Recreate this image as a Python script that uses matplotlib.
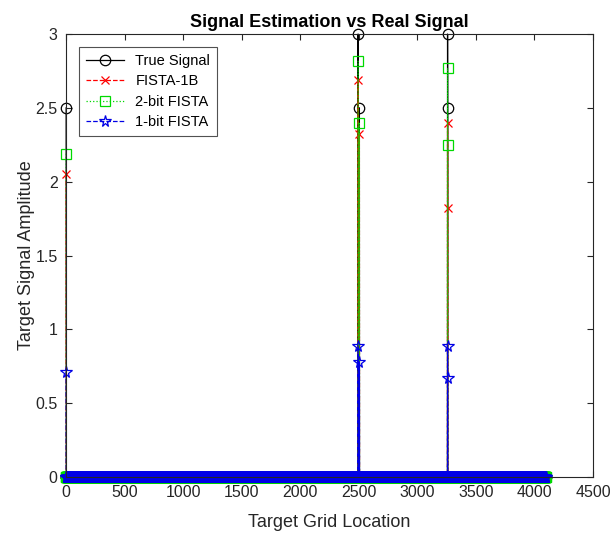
import numpy as np
import matplotlib
matplotlib.use('Agg')
import matplotlib.pyplot as plt

plt.rcParams['font.family'] = ['Liberation Sans', 'DejaVu Sans']

# grid of 4096 target locations, sparse support
n_grid = 4096
support = [1, 2494, 2505, 3258, 3259]

true_vals = [2.5, 3.0, 2.5, 3.0, 2.5]
fista_1b_vals = [2.05, 2.69, 2.32, 2.40, 1.82]
fista_2bit_vals = [2.19, 2.82, 2.40, 2.77, 2.25]
fista_1bit_vals = [0.71, 0.89, 0.78, 0.89, 0.67]

x_ticks = [0, 500, 1000, 1500, 2000, 2500, 3000, 3500, 4000, 4500]
y_ticks = [0, 0.5, 1, 1.5, 2, 2.5, 3]


def sparse_signal(vals):
    s = np.zeros(n_grid)
    s[np.array(support) - 1] = vals
    return s


grid = np.arange(1, n_grid + 1)

fig = plt.figure(figsize=(6.13, 5.36), dpi=100)
ax = fig.add_axes([0.1077, 0.110, 0.8597, 0.8265])

common = dict(lw=0.9, mew=0.9, clip_on=False)
ax.plot(grid, sparse_signal(true_vals), 'k-o', ms=7.5, mfc='none', label='True Signal', **common)
ax.plot(grid, sparse_signal(fista_1b_vals), 'r--x', ms=6, label='FISTA-1B', **common)
ax.plot(grid, sparse_signal(fista_2bit_vals), color=(0, 0.85, 0), ls=':', marker='s', ms=6.5,
        mfc='none', label='2-bit FISTA', **common)
ax.plot(grid, sparse_signal(fista_1bit_vals), color=(0, 0, 0.9), ls='--', marker='*', ms=8.5,
        mfc='none', label='1-bit FISTA', **common)

ax.set_xlim(0, 4500)
ax.set_ylim(0, 3)
ax.set_xticks(x_ticks)
ax.set_yticks(y_ticks)
ax.set_yticklabels(['0', '0.5', '1', '1.5', '2', '2.5', '3'])
ax.tick_params(direction='in', top=True, right=True, labelsize=11.5, colors='#262626', length=4, pad=6)
for sp in ax.spines.values():
    sp.set_color('#262626')
    sp.set_linewidth(0.8)

ax.set_title('Signal Estimation vs Real Signal', fontsize=13, fontweight='bold', pad=5)
ax.set_xlabel('Target Grid Location', fontsize=13, color='#262626', labelpad=10)
ax.set_ylabel('Target Signal Amplitude', fontsize=13, color='#262626', labelpad=0)

leg = ax.legend(loc='upper left', fontsize=10.5, fancybox=False, edgecolor='#262626',
                handlelength=2.6, borderaxespad=0.9, labelspacing=0.45, borderpad=0.45)
leg.get_frame().set_linewidth(0.8)

fig.savefig('out.png', dpi=100)
